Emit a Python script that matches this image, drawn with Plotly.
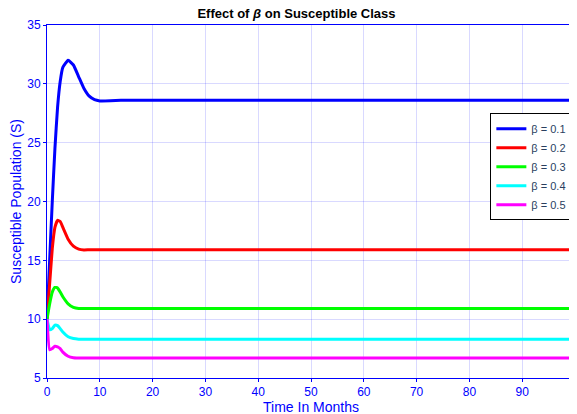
import plotly.graph_objects as go

# time points (months)
t = [0, 0.5, 1, 1.5, 2, 2.5, 3, 4, 5, 6, 7, 8, 9, 10, 12, 14, 16, 20,
     30, 40, 50, 60, 70, 80, 90, 100]

s_b01 = [10, 15, 20, 24.5, 28, 30.2, 31.4, 32, 31.6, 30.6, 29.6, 28.95, 28.65, 28.55,
         28.56, 28.6, 28.6, 28.6, 28.6, 28.6, 28.6, 28.6, 28.6, 28.6, 28.6, 28.6]
s_b02 = [10, 13, 16, 17.8, 18.4, 18.3, 17.8, 16.8, 16.2, 15.95, 15.88, 15.9, 15.9, 15.9,
         15.9, 15.9, 15.9, 15.9, 15.9, 15.9, 15.9, 15.9, 15.9, 15.9, 15.9, 15.9]
s_b03 = [10, 11.3, 12.3, 12.7, 12.65, 12.3, 11.9, 11.3, 11.0, 10.9, 10.9, 10.9, 10.9, 10.9,
         10.9, 10.9, 10.9, 10.9, 10.9, 10.9, 10.9, 10.9, 10.9, 10.9, 10.9, 10.9]
s_b04 = [10, 9.1, 9.2, 9.5, 9.45, 9.2, 8.9, 8.5, 8.35, 8.3, 8.3, 8.3, 8.3, 8.3,
         8.3, 8.3, 8.3, 8.3, 8.3, 8.3, 8.3, 8.3, 8.3, 8.3, 8.3, 8.3]
s_b05 = [10, 7.4, 7.5, 7.7, 7.65, 7.5, 7.2, 6.85, 6.72, 6.7, 6.7, 6.7, 6.7, 6.7,
         6.7, 6.7, 6.7, 6.7, 6.7, 6.7, 6.7, 6.7, 6.7, 6.7, 6.7, 6.7]

series = [
    ("β = 0.1", s_b01, "#0000FF"),
    ("β = 0.2", s_b02, "#FF0000"),
    ("β = 0.3", s_b03, "#00FF00"),
    ("β = 0.4", s_b04, "#00FFFF"),
    ("β = 0.5", s_b05, "#FF00FF"),
]

fig = go.Figure()
for name, vals, col in series:
    fig.add_trace(go.Scatter(x=t, y=vals, mode="lines", name=name,
                             line=dict(color=col, width=3, shape="spline", smoothing=0.4)))

axis_style = dict(showline=True, linecolor="#0000FF", linewidth=1, mirror=True,
                  showgrid=True, gridcolor="rgba(0,0,255,0.15)", ticks="outside",
                  ticklen=3, tickcolor="#0000FF", zeroline=False, automargin=False,
                  tickfont=dict(color="#0000FF", size=12))

fig.update_layout(
    width=577, height=414,
    margin=dict(l=39, r=10, t=17, b=44),
    paper_bgcolor="white", plot_bgcolor="white",
    font=dict(family="Liberation Sans, Arial", size=12),
    title=dict(text="<b>Effect of <i>β</i> on Susceptible Class</b>", x=0.5, xanchor="center",
               y=0.998, yanchor="top", font=dict(size=13, color="black")),
    xaxis=dict(range=[0, 100], dtick=10,
               title=dict(text="Time In Months", font=dict(color="#0000FF", size=14), standoff=2),
               **axis_style),
    yaxis=dict(range=[5, 35], dtick=5,
               title=dict(text="Susceptible Population (S)", font=dict(color="#0000FF", size=14), standoff=2),
               **axis_style),
    legend=dict(x=0.995, y=0.75, xanchor="right", yanchor="top",
                bgcolor="white", bordercolor="black", borderwidth=1,
                font=dict(size=11), tracegroupgap=0, itemwidth=30),
)

fig.write_html("out.html")
